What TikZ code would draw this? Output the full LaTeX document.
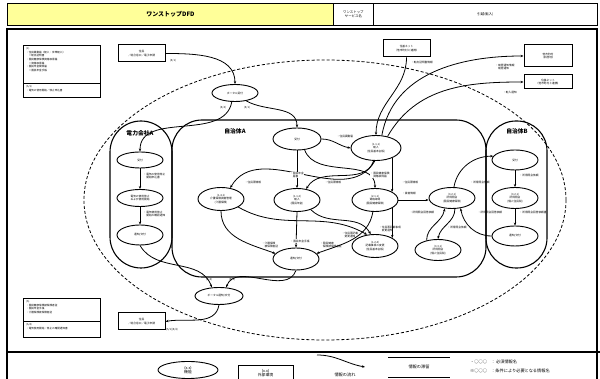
\documentclass[tikz,border=0pt]{standalone}
\usepackage{fontspec}
\setmainfont{Noto Sans CJK JP}
\usepackage{tikz}
\usetikzlibrary{arrows.meta}
\usetikzlibrary{shapes.geometric}
\definecolor{hdryellow}{RGB}{255,255,153}
\newcommand{\dfdfont}{\fontsize{2.7}{3.2}\selectfont}

\begin{document}
\begin{tikzpicture}[x=1pt,y=1pt]
      \useasboundingbox (0,0) rectangle (600,379);

      % header
      \begin{scope}[every node/.style={draw,line width=0.8pt,minimum height=22,inner sep=0,anchor=north west,align=center}]
        \node[fill=hdryellow,minimum width=326,font=\fontsize{6}{7}\selectfont\bfseries] (hdrTitle) at (7,376) {ワンストップDFD};
        \node[minimum width=40,font=\fontsize{3.4}{4}\selectfont] (hdrName) at (333,376) {ワンストップ\\サービス名};
        \node[minimum width=224,font=\fontsize{3.4}{4}\selectfont] (hdrValue) at (373,376) {引越(転入)};
      \end{scope}
      \draw[line width=1.4pt] (hdrTitle.south west) -- (hdrValue.south east);

      % frame and legend line
      \draw[line width=1.2pt] (7,350) rectangle (597,-2);
      \draw[line width=1.5pt] (7,27) -- (600,27);

      % border of the one-stop service
      \draw[dashed,dash pattern=on 3pt off 2pt,line width=0.8pt] (325,179) ellipse [x radius=241,y radius=140];

      % organisations
      \draw[line width=1.1pt,rounded corners=31] (110,111) rectangle (172,258);
      \draw[line width=1.1pt,rounded corners=30] (172,102) rectangle (486,259);
      \draw[line width=1.1pt,rounded corners=30] (486,111) rectangle (547,258);
      \begin{scope}[every node/.style={font=\fontsize{5.8}{6.5}\selectfont\bfseries}]
        \node (orgDenki) at (140,246) {電力会社A};
        \node (orgCityA) at (235,248) {自治体A};
        \node (orgCityB) at (517,248) {自治体B};
      \end{scope}

      % notes
      \draw[line width=0.9pt] (23,334) rectangle (100,282);
      \draw[line width=0.9pt] (23,296) -- (100,296);
      \draw[line width=0.9pt] (23,81) rectangle (100,42);
      \draw[line width=0.9pt] (23,58) -- (100,58);
      \begin{scope}[every node/.style={anchor=north west,align=left,inner sep=0,font=\fontsize{2.6}{3.7}\selectfont}]
        \node (noteInTop) at (26,332) {(1)\\・住民異動届（転入・世帯転入）\\　〃転出証明書\\・国民健康保険資格取得届\\　〃資格取得届\\・国民年金関係届\\　〃国民年金手帳};
        \node (noteInSub) at (26,294) {(5/1)\\・電気の使用開始／停止申込書};
        \node (noteOutTop) at (26,79) {(5)\\・国民健康保険被保険者証\\・国民年金手帳\\・介護保険被保険者証};
        \node (noteOutSub) at (26,56) {(5/4)\\・電気使用開始・停止の確認通知書};
      \end{scope}

      % external entities
      \begin{scope}[every node/.style={draw,line width=1pt,inner sep=0,align=center,font=\dfdfont}]
        \node[minimum width=47,minimum height=17] (juminIn) at (141.5,325.5) {住民\\／総合窓口／電子申請};
        \node[minimum width=47,minimum height=17] (juminOut) at (141.5,57.5) {住民\\／総合窓口／電子申請};
        \node[minimum width=47,minimum height=17] (jukiIn) at (406.5,330.5) {住基ネット\\（他市町村と連携）};
        \node[minimum width=48,minimum height=22] (kyukyo) at (548,323) {他市町村\\（旧居地）};
        \node[minimum width=48,minimum height=14] (jukiOut) at (548,297) {住基ネット\\（他市町村と連携）};
      \end{scope}

      % functions
      \begin{scope}[every node/.style={ellipse,draw,line width=0.9pt,minimum width=46,minimum height=20,inner sep=0,align=center,font=\dfdfont}]
        \node[minimum height=17] (portalUke) at (235,286) {ポータル受付};
        \node[minimum width=48,minimum height=17] (portalTsu) at (219,83) {ポータル通知/交付};
        \node[minimum height=16] (denUke) at (140,219) {受付};
        \node[minimum height=17] (denSiyo) at (140,181) {電気の使用停止\\および使用開始};
        \node (denTsu) at (140,144) {通知/交付};
        \node[minimum width=48,minimum height=22] (ukeA) at (297,240) {受付};
        \node[minimum width=50,minimum height=25] (ten111) at (376,231) {(1.1.1)\\転入\\(住民基本台帳)};
        \node[minimum height=23] (kai141) at (221,180) {(1.4.1)\\介護保険資格管理\\(介護保険)};
        \node[minimum height=23] (ten112) at (297,179) {(1.1.2)\\転入\\(国民年金)};
        \node[minimum height=23] (shi211) at (375,179) {(2.1.1)\\資格取得\\(国民健康保険)};
        \node[minimum height=23] (hen124) at (375,133) {(1.2.4)\\記載事項の変更\\(住民基本台帳)};
        \node[minimum height=22] (tsuA) at (296,120) {通知/交付};
        \node[minimum height=21] (sho321) at (452,181) {(3.2.1)\\所得照会\\(国民健康保険)};
        \node[minimum height=21] (sho331) at (438,129) {(3.3.1)\\所得照会\\(個人住民税)};
        \node[minimum height=20] (ukeB) at (515,219) {受付};
        \node[minimum height=21] (sho321B) at (515,181) {(3.2.1)\\所得照会\\(個人住民税)};
        \node (tsuB) at (515,143) {通知/交付};
      \end{scope}

      % information flows
      \begin{scope}[>={Stealth[length=3pt,width=2.4pt]},
          every edge/.style={draw=black,line width=0.8pt}]
        \path [->] (juminIn.east) edge[out=0,in=90] (portalUke.north);
        \path [->] (portalUke.-35) edge[out=-30,in=90] (ukeA.north);
        \path [->] (portalUke.250) edge[out=-100,in=90] (denUke.north);
        \path [->] (denUke.south) edge (denSiyo.north);
        \path [->] (denSiyo.south) edge (denTsu.north);
        \path [->] (ukeA.east) edge[out=0,in=170] (ten111.west);
        \path [->] (jukiIn.south) edge[out=-90,in=90] (ten111.north);
        \path [->] (ten111.65) edge[out=80,in=180] (kyukyo.west);
        \path [->] (ten111.45) edge[out=60,in=180] (jukiOut.west);
        \path [->] (ukeA.south) edge (ten112.north);
        \path [->] (ukeA.-55) edge[out=-70,in=90] (shi211.north);
        \path [->] (ten111.-95) edge[out=-120,in=60] (kai141.50);
        \path [->] (ten111.-100) edge[out=-110,in=60] (ten112.50);
        \path [->] (ten111.-32) edge (ten111.-32 |- shi211.25);
        \path [->] (shi211.-25) edge (shi211.-25 |- hen124.25);
        \path [->] (shi211.east) edge (shi211.east -| sho321.west);
        \path [->] (ten112.south) edge (tsuA.north);
        \path [->] (kai141.south) edge[out=-90,in=160] (tsuA.165);
        \path [->] (shi211.-100) edge[out=-100,in=20] (tsuA.15);
        \path [->] (kai141.-25) edge[out=-30,in=150] (hen124.125);
        \path [->] (ten112.-35) edge[out=-45,in=120] (hen124.110);
        \path [->] (sho321.-75) edge[out=-90,in=80] (sho331.north);
        \path [->] (sho331.140) edge[out=90,in=-100] (sho321.-125);
        \path [->] (sho321.80) edge[out=80,in=180] (ukeB.170);
        \path [->] (ukeB.south) edge (sho321B.north);
        \path [->] (sho321B.south) edge (tsuB.north);
        \path [->] (tsuB.west) edge[out=180,in=-80] (sho321.-50);
        \path [->] (denTsu.south) edge[out=-60,in=110] (portalTsu.130);
        \path [->] (tsuA.south) edge[out=-110,in=70] (portalTsu.50);
        \path [->] (portalTsu.south) edge[out=-100,in=10] (juminOut.east);
      \end{scope}

      % flow labels
      \begin{scope}[every node/.style={font=\dfdfont,inner sep=0.4pt,align=left}]
        \node (lblPortIn) at (173,318) {(5/1)};
        \node (lblPortDen) at (223,271) {(5/4)};
        \node (lblPortCity) at (247,271) {(5/1)};
        \node (lblIdo) at (345,243) {・住民異動届};
        \node (lblTenshutsu) at (422,317) {・転出証明書情報};
        \node (lblTenkyo) at (505,312) {・転居通知情報\\　転居通知};
        \node (lblTennyu) at (510,287) {・転入通知};
        \node[fill=white] (lblNenkin) at (297,204) {・国民年金\\　届書};
        \node[fill=white] (lblKokuho) at (380,204) {・国民健康保険\\　資格取得届};
        \node (lblJuminKai) at (253,197) {・住民票情報};
        \node (lblJuminNen) at (333,197) {・住民票情報};
        \node (lblJuminKoku) at (410,197) {・住民票情報};
        \node (lblShikaku) at (409,186) {・資格情報};
        \node[fill=white] (lblTecho) at (300,138) {・国民年金手帳};
        \node (lblKaigo) at (270,134) {・介護保険\\　被保険者証};
        \node (lblHoken) at (331,134) {・国民健康\\　保険被保険者証};
        \node (lblHenko) at (350,144) {・住民票記載\\　変更通知};
        \node (lblHenkoJiko) at (390,150) {・住民票記載事項\\　変更通知};
        \node (lblIraiB) at (480,197) {・所得照会依頼};
        \node (lblKaitoA) at (422,167) {・所得照会回答依頼};
        \node (lblIraiA) at (457,152) {・所得照会依頼};
        \node (lblKaitoB) at (490,167) {・所得照会回答依頼};
        \node[anchor=west] (lblIraiUke) at (519,204) {・所得照会依頼};
        \node[anchor=west] (lblKaitoSho) at (519,167) {・所得照会回答依頼書};
        \node[anchor=west] (lblDenMoshi) at (143,203) {・電気の使用停止\\　開始申込書};
        \node[anchor=west] (lblDenKakunin) at (143,165) {・電気使用停止\\　開始の確認通知};
        \node (lblTsuDen) at (209,99) {(5/4)};
        \node (lblTsuCity) at (232,99) {(5/1)};
        \node (lblTsuOut) at (172,49) {(5/1)(5/4)};
      \end{scope}

      % legend
      \node[ellipse,draw,line width=0.9pt,minimum width=60,minimum height=17,inner sep=0,align=center,font=\fontsize{3.8}{4.6}\selectfont] (legFunc) at (188,9) {(x.x)\\機能};
      \node[draw,line width=1pt,minimum width=55,minimum height=14,inner sep=0,align=center,font=\fontsize{3.8}{4.6}\selectfont] (legExt) at (265.5,6) {(x.x)\\外部環境};
      \coordinate (flowFrom) at (317,24);
      \coordinate (flowTo) at (365,12);
      \path [->,>={Stealth[length=3pt,width=2.4pt]}] (flowFrom) edge[draw=black,line width=0.8pt,out=0,in=170] (flowTo);
      \coordinate (storeTopL) at (388,22);
      \coordinate (storeTopR) at (450,22);
      \coordinate (storeBotL) at (388,2);
      \coordinate (storeBotR) at (450,2);
      \draw[line width=0.8pt] (storeTopL) -- (storeTopR);
      \draw[line width=0.8pt] (storeBotL) -- (storeBotR);
      \begin{scope}[every node/.style={font=\fontsize{4.2}{5}\selectfont,inner sep=0}]
        \node (lblFlow) at (345,4) {情報の流れ};
        \node (lblStore) at (419,12) {情報の滞留};
        \node[anchor=west] (lblMust) at (470,17) {・○○○　：\,必須情報名};
        \node[anchor=west] (lblCond) at (470,8) {※○○○　：条件により必要となる情報名};
      \end{scope}
    \end{tikzpicture}
\end{document}
